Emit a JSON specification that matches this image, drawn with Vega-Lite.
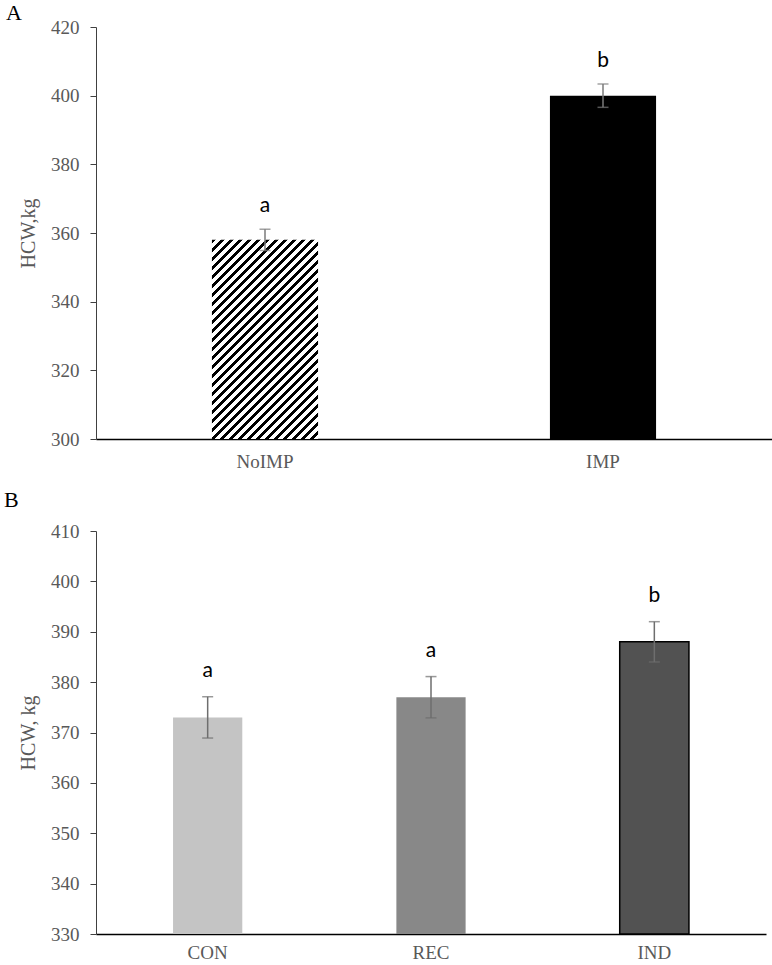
{
  "$schema": "https://vega.github.io/schema/vega-lite/v6.json",
  "background": "white",
  "padding": {"left": 4, "top": 2, "right": 0, "bottom": 0},
  "spacing": 18,
  "config": {
    "view": {"stroke": null},
    "axis": {
      "labelFont": "Liberation Serif",
      "titleFont": "Liberation Serif",
      "labelColor": "#595959",
      "titleColor": "#595959",
      "labelFontSize": 19,
      "titleFontSize": 20,
      "titleFontWeight": "normal",
      "grid": false,
      "domainColor": "#404040",
      "tickColor": "#404040",
      "tickSize": 6,
      "labelPadding": 11
    },
    "title": {"font": "Liberation Serif", "fontSize": 22, "fontWeight": "normal", "color": "black", "anchor": "start", "frame": "group"}
  },
  "vconcat": [
    {
      "width": 676,
      "height": 412,
      "title": {"text": "A", "dx": -90, "offset": -7},
      "data": {"values": [
        {"trt": "NoIMP", "hcw": 358, "lo": 354.9, "hi": 361.1, "letter": "a"},
        {"trt": "IMP", "hcw": 400, "lo": 396.6, "hi": 403.4, "letter": "b"}
      ]},
      "encoding": {
        "x": {"field": "trt", "type": "nominal", "sort": ["NoIMP", "IMP"], "scale": {"paddingInner": 0, "paddingOuter": 0},
          "axis": {"title": null, "labelAngle": 0, "ticks": false, "domainColor": "#000000", "domainWidth": 1.5, "labelPadding": 13}}
      },
      "layer": [
        {
          "transform": [{"filter": "datum.trt == 'NoIMP'"}],
          "mark": {"type": "bar", "width": {"band": 0.314},
            "color": {"gradient": "linear", "x1": 0, "y1": 0, "x2": 0.636, "y2": 1.194, "stops": [
              {"offset": 0, "color": "black"}, {"offset": 0.01324, "color": "black"}, {"offset": 0.01324, "color": "white"}, {"offset": 0.02941, "color": "white"},
              {"offset": 0.02941, "color": "black"}, {"offset": 0.04265, "color": "black"}, {"offset": 0.04265, "color": "white"}, {"offset": 0.05882, "color": "white"},
              {"offset": 0.05882, "color": "black"}, {"offset": 0.07206, "color": "black"}, {"offset": 0.07206, "color": "white"}, {"offset": 0.08824, "color": "white"},
              {"offset": 0.08824, "color": "black"}, {"offset": 0.10147, "color": "black"}, {"offset": 0.10147, "color": "white"}, {"offset": 0.11765, "color": "white"},
              {"offset": 0.11765, "color": "black"}, {"offset": 0.13088, "color": "black"}, {"offset": 0.13088, "color": "white"}, {"offset": 0.14706, "color": "white"},
              {"offset": 0.14706, "color": "black"}, {"offset": 0.16029, "color": "black"}, {"offset": 0.16029, "color": "white"}, {"offset": 0.17647, "color": "white"},
              {"offset": 0.17647, "color": "black"}, {"offset": 0.18971, "color": "black"}, {"offset": 0.18971, "color": "white"}, {"offset": 0.20588, "color": "white"},
              {"offset": 0.20588, "color": "black"}, {"offset": 0.21912, "color": "black"}, {"offset": 0.21912, "color": "white"}, {"offset": 0.23529, "color": "white"},
              {"offset": 0.23529, "color": "black"}, {"offset": 0.24853, "color": "black"}, {"offset": 0.24853, "color": "white"}, {"offset": 0.26471, "color": "white"},
              {"offset": 0.26471, "color": "black"}, {"offset": 0.27794, "color": "black"}, {"offset": 0.27794, "color": "white"}, {"offset": 0.29412, "color": "white"},
              {"offset": 0.29412, "color": "black"}, {"offset": 0.30735, "color": "black"}, {"offset": 0.30735, "color": "white"}, {"offset": 0.32353, "color": "white"},
              {"offset": 0.32353, "color": "black"}, {"offset": 0.33676, "color": "black"}, {"offset": 0.33676, "color": "white"}, {"offset": 0.35294, "color": "white"},
              {"offset": 0.35294, "color": "black"}, {"offset": 0.36618, "color": "black"}, {"offset": 0.36618, "color": "white"}, {"offset": 0.38235, "color": "white"},
              {"offset": 0.38235, "color": "black"}, {"offset": 0.39559, "color": "black"}, {"offset": 0.39559, "color": "white"}, {"offset": 0.41176, "color": "white"},
              {"offset": 0.41176, "color": "black"}, {"offset": 0.425, "color": "black"}, {"offset": 0.425, "color": "white"}, {"offset": 0.44118, "color": "white"},
              {"offset": 0.44118, "color": "black"}, {"offset": 0.45441, "color": "black"}, {"offset": 0.45441, "color": "white"}, {"offset": 0.47059, "color": "white"},
              {"offset": 0.47059, "color": "black"}, {"offset": 0.48382, "color": "black"}, {"offset": 0.48382, "color": "white"}, {"offset": 0.5, "color": "white"},
              {"offset": 0.5, "color": "black"}, {"offset": 0.51324, "color": "black"}, {"offset": 0.51324, "color": "white"}, {"offset": 0.52941, "color": "white"},
              {"offset": 0.52941, "color": "black"}, {"offset": 0.54265, "color": "black"}, {"offset": 0.54265, "color": "white"}, {"offset": 0.55882, "color": "white"},
              {"offset": 0.55882, "color": "black"}, {"offset": 0.57206, "color": "black"}, {"offset": 0.57206, "color": "white"}, {"offset": 0.58824, "color": "white"},
              {"offset": 0.58824, "color": "black"}, {"offset": 0.60147, "color": "black"}, {"offset": 0.60147, "color": "white"}, {"offset": 0.61765, "color": "white"},
              {"offset": 0.61765, "color": "black"}, {"offset": 0.63088, "color": "black"}, {"offset": 0.63088, "color": "white"}, {"offset": 0.64706, "color": "white"},
              {"offset": 0.64706, "color": "black"}, {"offset": 0.66029, "color": "black"}, {"offset": 0.66029, "color": "white"}, {"offset": 0.67647, "color": "white"},
              {"offset": 0.67647, "color": "black"}, {"offset": 0.68971, "color": "black"}, {"offset": 0.68971, "color": "white"}, {"offset": 0.70588, "color": "white"},
              {"offset": 0.70588, "color": "black"}, {"offset": 0.71912, "color": "black"}, {"offset": 0.71912, "color": "white"}, {"offset": 0.73529, "color": "white"},
              {"offset": 0.73529, "color": "black"}, {"offset": 0.74853, "color": "black"}, {"offset": 0.74853, "color": "white"}, {"offset": 0.76471, "color": "white"},
              {"offset": 0.76471, "color": "black"}, {"offset": 0.77794, "color": "black"}, {"offset": 0.77794, "color": "white"}, {"offset": 0.79412, "color": "white"},
              {"offset": 0.79412, "color": "black"}, {"offset": 0.80735, "color": "black"}, {"offset": 0.80735, "color": "white"}, {"offset": 0.82353, "color": "white"},
              {"offset": 0.82353, "color": "black"}, {"offset": 0.83676, "color": "black"}, {"offset": 0.83676, "color": "white"}, {"offset": 0.85294, "color": "white"},
              {"offset": 0.85294, "color": "black"}, {"offset": 0.86618, "color": "black"}, {"offset": 0.86618, "color": "white"}, {"offset": 0.88235, "color": "white"},
              {"offset": 0.88235, "color": "black"}, {"offset": 0.89559, "color": "black"}, {"offset": 0.89559, "color": "white"}, {"offset": 0.91176, "color": "white"},
              {"offset": 0.91176, "color": "black"}, {"offset": 0.925, "color": "black"}, {"offset": 0.925, "color": "white"}, {"offset": 0.94118, "color": "white"},
              {"offset": 0.94118, "color": "black"}, {"offset": 0.95441, "color": "black"}, {"offset": 0.95441, "color": "white"}, {"offset": 0.97059, "color": "white"},
              {"offset": 0.97059, "color": "black"}, {"offset": 0.98382, "color": "black"}, {"offset": 0.98382, "color": "white"}, {"offset": 1, "color": "white"}
            ]}},
          "encoding": {
            "y": {"field": "hcw", "type": "quantitative", "scale": {"domain": [300, 420], "zero": false},
              "axis": {"values": [300, 320, 340, 360, 380, 400, 420], "title": "HCW,kg", "titlePadding": 12}},
            "y2": {"datum": 300}
          }
        },
        {
          "transform": [{"filter": "datum.trt == 'IMP'"}],
          "mark": {"type": "bar", "width": {"band": 0.314}, "color": "black"},
          "encoding": {"y": {"field": "hcw", "type": "quantitative"}, "y2": {"datum": 300}}
        },
        {
          "mark": {"type": "rule", "color": "#7a7a7a", "strokeWidth": 1.5},
          "encoding": {"y": {"field": "lo", "type": "quantitative"}, "y2": {"field": "hi"}}
        },
        {
          "mark": {"type": "tick", "color": "#7a7a7a", "size": 11, "thickness": 1.5},
          "encoding": {"y": {"field": "lo", "type": "quantitative"}}
        },
        {
          "mark": {"type": "tick", "color": "#7a7a7a", "size": 11, "thickness": 1.5},
          "encoding": {"y": {"field": "hi", "type": "quantitative"}}
        },
        {
          "mark": {"type": "text", "font": "Lato", "fontSize": 21, "color": "black", "baseline": "alphabetic", "dy": -17},
          "encoding": {"y": {"field": "hi", "type": "quantitative"}, "text": {"field": "letter"}}
        }
      ]
    },
    {
      "width": 670,
      "height": 403,
      "title": {"text": "B", "dx": -92, "offset": 10},
      "data": {"values": [
        {"trt": "CON", "hcw": 373, "lo": 368.9, "hi": 377.1, "letter": "a"},
        {"trt": "REC", "hcw": 377, "lo": 372.9, "hi": 381.1, "letter": "a"},
        {"trt": "IND", "hcw": 388, "lo": 384, "hi": 392, "letter": "b"}
      ]},
      "encoding": {
        "x": {"field": "trt", "type": "nominal", "sort": ["CON", "REC", "IND"], "scale": {"paddingInner": 0, "paddingOuter": 0},
          "axis": {"title": null, "labelAngle": 0, "ticks": false, "domainColor": "#000000", "domainWidth": 1.5, "labelPadding": 9}}
      },
      "layer": [
        {
          "mark": {"type": "bar", "width": {"band": 0.31}, "stroke": "black"},
          "encoding": {
            "y": {"field": "hcw", "type": "quantitative", "scale": {"domain": [330, 410], "zero": false},
              "axis": {"values": [330, 340, 350, 360, 370, 380, 390, 400, 410], "title": "HCW, kg", "titlePadding": 12}},
            "y2": {"datum": 330},
            "color": {"field": "trt", "type": "nominal", "scale": {"domain": ["CON", "REC", "IND"], "range": ["#c4c4c4", "#888888", "#525252"]}, "legend": null},
            "strokeWidth": {"condition": {"test": "datum.trt == 'IND'", "value": 1.5}, "value": 0}
          }
        },
        {
          "mark": {"type": "rule", "color": "#6e6e6e", "strokeWidth": 1.5},
          "encoding": {"y": {"field": "lo", "type": "quantitative"}, "y2": {"field": "hi"}}
        },
        {
          "mark": {"type": "tick", "color": "#6e6e6e", "size": 11, "thickness": 1.5},
          "encoding": {"y": {"field": "lo", "type": "quantitative"}}
        },
        {
          "mark": {"type": "tick", "color": "#6e6e6e", "size": 11, "thickness": 1.5},
          "encoding": {"y": {"field": "hi", "type": "quantitative"}}
        },
        {
          "mark": {"type": "text", "font": "Lato", "fontSize": 21, "color": "black", "baseline": "alphabetic", "dy": -20},
          "encoding": {"y": {"field": "hi", "type": "quantitative"}, "text": {"field": "letter"}}
        }
      ]
    }
  ]
}
